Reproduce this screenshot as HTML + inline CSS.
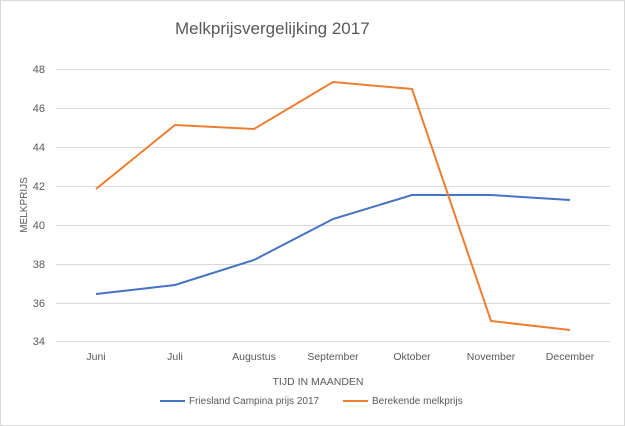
<!DOCTYPE html>
<html><head><style>body{margin:0;background:#fff}svg{display:block}</style></head><body>
<svg width="625" height="426" xmlns="http://www.w3.org/2000/svg" font-family="Liberation Sans, sans-serif">
<rect x="0.5" y="0.5" width="624" height="425" fill="#fff" stroke="#d9d9d9"/>
<text x="175" y="34" font-size="17" fill="#595959">Melkprijsvergelijking 2017</text>
<g stroke="#d9d9d9" stroke-width="1">
<line x1="56" x2="610" y1="69.5" y2="69.5"/><line x1="56" x2="610" y1="108.5" y2="108.5"/>
<line x1="56" x2="610" y1="147.5" y2="147.5"/><line x1="56" x2="610" y1="186.5" y2="186.5"/>
<line x1="56" x2="610" y1="225.5" y2="225.5"/><line x1="56" x2="610" y1="264.5" y2="264.5"/>
<line x1="56" x2="610" y1="303.5" y2="303.5"/><line x1="56" x2="610" y1="341.5" y2="341.5"/>
</g>
<g font-size="11" fill="#595959" text-anchor="end">
<text x="45" y="73">48</text><text x="45" y="112">46</text><text x="45" y="151">44</text><text x="45" y="190">42</text>
<text x="45" y="229">40</text><text x="45" y="268">38</text><text x="45" y="307">36</text><text x="45" y="345">34</text>
</g>
<g font-size="10.5" fill="#595959" text-anchor="middle">
<text x="96" y="360">Juni</text><text x="175" y="360">Juli</text><text x="254" y="360">Augustus</text>
<text x="333" y="360">September</text><text x="412" y="360">Oktober</text><text x="491" y="360">November</text><text x="570" y="360">December</text>
<text x="318" y="385">TIJD IN MAANDEN</text>
</g>
<text transform="translate(27,205) rotate(-90)" font-size="10" fill="#595959" text-anchor="middle">MELKPRIJS</text>
<polyline fill="none" stroke="#4472c4" stroke-width="2" points="96,294 175,285 254,260 333,219 412,195 491,195 570,200"/>
<polyline fill="none" stroke="#ed7d31" stroke-width="2" points="96,189 175,125 254,129 333,82 412,89 491,321 570,330"/>
<line x1="160" x2="185" y1="401" y2="401" stroke="#4472c4" stroke-width="2"/>
<text x="189" y="404" font-size="10" fill="#595959">Friesland Campina prijs 2017</text>
<line x1="343" x2="368" y1="401" y2="401" stroke="#ed7d31" stroke-width="2"/>
<text x="372" y="404" font-size="10" fill="#595959">Berekende melkprijs</text>
</svg>
</body></html>
